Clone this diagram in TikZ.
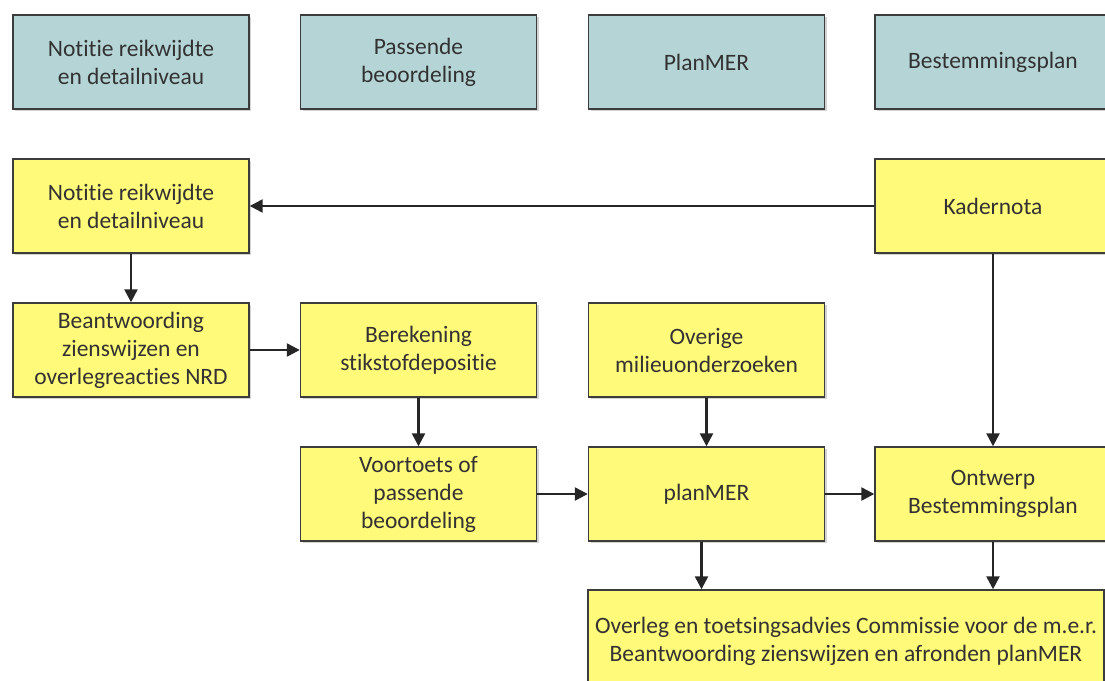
\documentclass[tikz,border=0pt]{standalone}
\usepackage{fontspec}
\setmainfont{Carlito}[Ligatures={NoCommon,NoRare}]
\usetikzlibrary{arrows.meta,shadows}

\definecolor{phasefill}{RGB}{181,212,214}
\definecolor{stepfill}{RGB}{255,250,122}
\definecolor{boxline}{RGB}{60,60,60}
\definecolor{boxtext}{RGB}{50,50,50}

\begin{document}
\begin{tikzpicture}[
            x=1pt, y=-1pt,
            box/.style = {
                draw=boxline, line width=1.4pt,
                minimum width=236pt, minimum height=94pt,
                align=center, text=boxtext,
                font=\fontsize{23.5}{28}\selectfont,
                drop shadow={shadow xshift=2pt, shadow yshift=-2pt, opacity=0.35}
            },
            phasebox/.style = {box, fill=phasefill},
            stepbox/.style  = {box, fill=stepfill},
            flow/.style = {
                line width=2.4pt, draw=black!85,
                -{Triangle[length=13pt,width=13pt]}
            }
            ]
            \useasboundingbox (0,0) rectangle (1105,680);
            \clip (0,0) rectangle (1105,680);

            % Phases (top row)
            \node[phasebox] (p1) at (131,62)   {Notitie reikwijdte\\en detailniveau};
            \node[phasebox] (p2) at (418.5,62) {Passende\\beoordeling};
            \node[phasebox] (p3) at (706.5,62) {PlanMER};
            \node[phasebox] (p4) at (993,62)   {Bestemmingsplan};

            % Steps
            \node[stepbox] (nrd)      at (131,206)   {Notitie reikwijdte\\en detailniveau};
            \node[stepbox] (kader)    at (993,206)   {Kadernota};
            \node[stepbox] (antwoord) at (131,350)   {Beantwoording\\zienswijzen en\\overlegreacties NRD};
            \node[stepbox] (stikstof) at (418.5,350) {Berekening\\stikstofdepositie};
            \node[stepbox] (overig)   at (706.5,350) {Overige\\milieuonderzoeken};
            \node[stepbox] (voortoets) at (418.5,494) {Voortoets of\\passende\\beoordeling};
            \node[stepbox] (planmer)  at (706.5,494) {planMER};
            \node[stepbox] (ontwerp)  at (993,494)   {Ontwerp\\Bestemmingsplan};
            \node[stepbox, minimum width=516pt, minimum height=102pt]
                (overleg) at (846,641)
                {Overleg en toetsingsadvies Commissie voor de m.e.r.\\Beantwoording zienswijzen en afronden planMER};

            % Connectors
            \draw[flow] (kader) -- (nrd);
            \draw[flow] (nrd) -- (antwoord);
            \draw[flow] (antwoord) -- (stikstof);
            \draw[flow] (stikstof) -- (voortoets);
            \draw[flow] (overig) -- (planmer);
            \draw[flow] (voortoets) -- (planmer);
            \draw[flow] (planmer) -- (ontwerp);
            \draw[flow] (kader) -- (ontwerp);
            \draw[flow] ([xshift=-5pt]planmer.south) -- ([xshift=-5pt]planmer.south |- overleg.north);
            \draw[flow] (ontwerp.south) -- (ontwerp.south |- overleg.north);
        \end{tikzpicture}
\end{document}
